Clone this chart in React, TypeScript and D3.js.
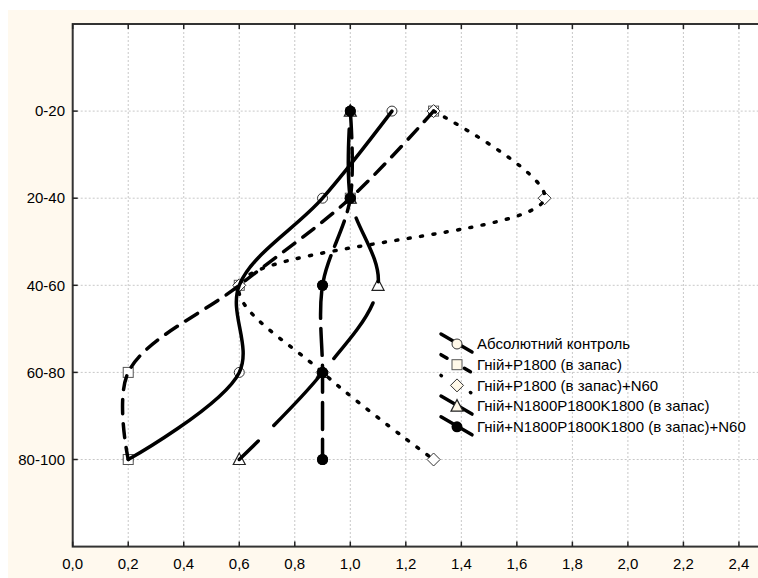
import React from "react";
import * as d3 from "d3";

const depths = ["0-20", "20-40", "40-60", "60-80", "80-100"];
const seriesNames = [
  "Абсолютний контроль",
  "Гній+Р1800 (в запас)",
  "Гній+Р1800 (в запас)+N60",
  "Гній+N1800P1800K1800 (в запас)",
  "Гній+N1800P1800K1800 (в запас)+N60",
];
const control = [1.15, 0.9, 0.6, 0.6, 0.2];
const manureP = [1.3, 1.0, 0.6, 0.2, 0.2];
const manurePN = [1.3, 1.7, 0.6, 0.9, 1.3];
const manureNPK = [1.0, 1.0, 1.1, 0.9, 0.6];
const manureNPKN = [1.0, 1.0, 0.9, 0.9, 0.9];
const xTicks = [0, 0.2, 0.4, 0.6, 0.8, 1.0, 1.2, 1.4, 1.6, 1.8, 2.0, 2.2, 2.4];

const seriesValues = [control, manureP, manurePN, manureNPK, manureNPKN];
const seriesDash = ["", "14,10", "2,10.5", "68,22", "27,10"];
const seriesDashOffset = [0, 0, 0, 72, 0];
const legendDash = ["", "7,20", "0.5,16.5", "", ""];
const seriesMarker = ["circle", "square", "diamond", "triangle", "dot"];

const L = 72.7, T = 24, B = 546.6, R = 766.7;
const x = d3.scaleLinear().domain([0, 2.5]).range([L, R]);
const y = d3.scaleLinear().domain([0, 6]).range([T, B]);
const fmt = (v: number) => d3.format(".1f")(v).replace(".", ",");
const FONT = "'Liberation Sans', Arial, sans-serif";

function Marker({ kind, cx, cy, fill }: { kind: string; cx: number; cy: number; fill: string }) {
  if (kind === "circle")
    return <circle cx={cx} cy={cy} r={5} fill={fill} stroke="#333" strokeWidth={1} />;
  if (kind === "square")
    return <rect x={cx - 5} y={cy - 5} width={10} height={10} fill={fill} stroke="#555" strokeWidth={1} />;
  if (kind === "diamond")
    return <path d={`M${cx},${cy - 6.5}L${cx + 6.5},${cy}L${cx},${cy + 6.5}L${cx - 6.5},${cy}Z`} fill={fill} stroke="#333" strokeWidth={1} />;
  if (kind === "triangle")
    return <path d={`M${cx},${cy - 6.5}L${cx + 6},${cy + 5}L${cx - 6},${cy + 5}Z`} fill={fill} stroke="#222" strokeWidth={1.2} />;
  return <circle cx={cx} cy={cy} r={5.5} fill="#000" />;
}

export default function App() {
  const line = d3
    .line<number>()
    .x((d) => x(d))
    .y((_, i) => y(i + 1))
    .curve(d3.curveCatmullRom.alpha(0.5));

  const legendX = 441;
  const legendY0 = 344;
  const legendDy = 20.7;

  return (
    <svg width={758} height={578} style={{ position: "absolute", left: 0, top: 0 }}>
      <rect x={0} y={0} width={758} height={578} fill="#fff" />
      <rect x={8} y={10} width={750} height={568} fill="#FFF9EE" />
      <rect x={L} y={T} width={R - L} height={B - T} fill="#fff" />
      {/* grid */}
      {xTicks.slice(1).map((t) => (
        <line key={"gx" + t} x1={x(t)} x2={x(t)} y1={T} y2={B} stroke="#c8c8c8" strokeDasharray="2,2" strokeWidth={1} />
      ))}
      {depths.map((d, i) => (
        <line key={"gy" + d} x1={L} x2={R} y1={y(i + 1)} y2={y(i + 1)} stroke="#c8c8c8" strokeDasharray="2,2" strokeWidth={1} />
      ))}
      {/* frame */}
      <rect x={L} y={T} width={R - L} height={B - T} fill="none" stroke="#333" strokeWidth={2} />
      {xTicks.map((t) => (
        <g key={"tx" + t}>
          <line x1={x(t)} x2={x(t)} y1={T} y2={T + 5} stroke="#222" strokeWidth={1.5} />
          <line x1={x(t)} x2={x(t)} y1={B} y2={B - 5} stroke="#222" strokeWidth={1.5} />
          <text x={x(t)} y={B + 22} textAnchor="middle" fontFamily={FONT} fontSize={15} fill="#000">
            {fmt(t)}
          </text>
        </g>
      ))}
      {depths.map((d, i) => (
        <g key={"ty" + d}>
          <line x1={L} x2={L + 5} y1={y(i + 1)} y2={y(i + 1)} stroke="#222" strokeWidth={1.5} />
          <text x={65} y={y(i + 1)} dy="0.35em" textAnchor="end" fontFamily={FONT} fontSize={15} fill="#000">
            {d}
          </text>
        </g>
      ))}
      {/* markers first */}
      {seriesValues.map((vals, s) => (
        <g key={"m" + s}>
          {vals.map((v, i) => (
            <Marker key={i} kind={seriesMarker[s]} cx={x(v)} cy={y(i + 1)} fill="#fff" />
          ))}
        </g>
      ))}
      {/* lines on top */}
      {seriesValues.map((vals, s) => (
        <path
          key={"l" + s}
          d={line(vals) || ""}
          fill="none"
          stroke="#000"
          strokeWidth={3.5}
          strokeDasharray={seriesDash[s] || undefined}
          strokeDashoffset={seriesDashOffset[s]}
          strokeLinecap="round"
        />
      ))}
      {/* filled markers stay visible */}
      {manureNPKN.map((v, i) => (
        <Marker key={"f" + i} kind="dot" cx={x(v)} cy={y(i + 1)} fill="#000" />
      ))}
      {/* legend */}
      {seriesNames.map((name, s) => {
        const cy = legendY0 + s * legendDy;
        return (
          <g key={"lg" + s}>
            <line
              x1={legendX}
              y1={cy - 10}
              x2={legendX + 31}
              y2={cy + 8}
              stroke="#000"
              strokeWidth={3.5}
              strokeDasharray={legendDash[s] || undefined}
              strokeLinecap="round"
            />
            <Marker kind={seriesMarker[s]} cx={legendX + 16} cy={cy} fill="#FFF8E8" />
            <text x={477} y={cy} dy="0.35em" fontFamily={FONT} fontSize={15} fill="#000">
              {name}
            </text>
          </g>
        );
      })}
    </svg>
  );
}
